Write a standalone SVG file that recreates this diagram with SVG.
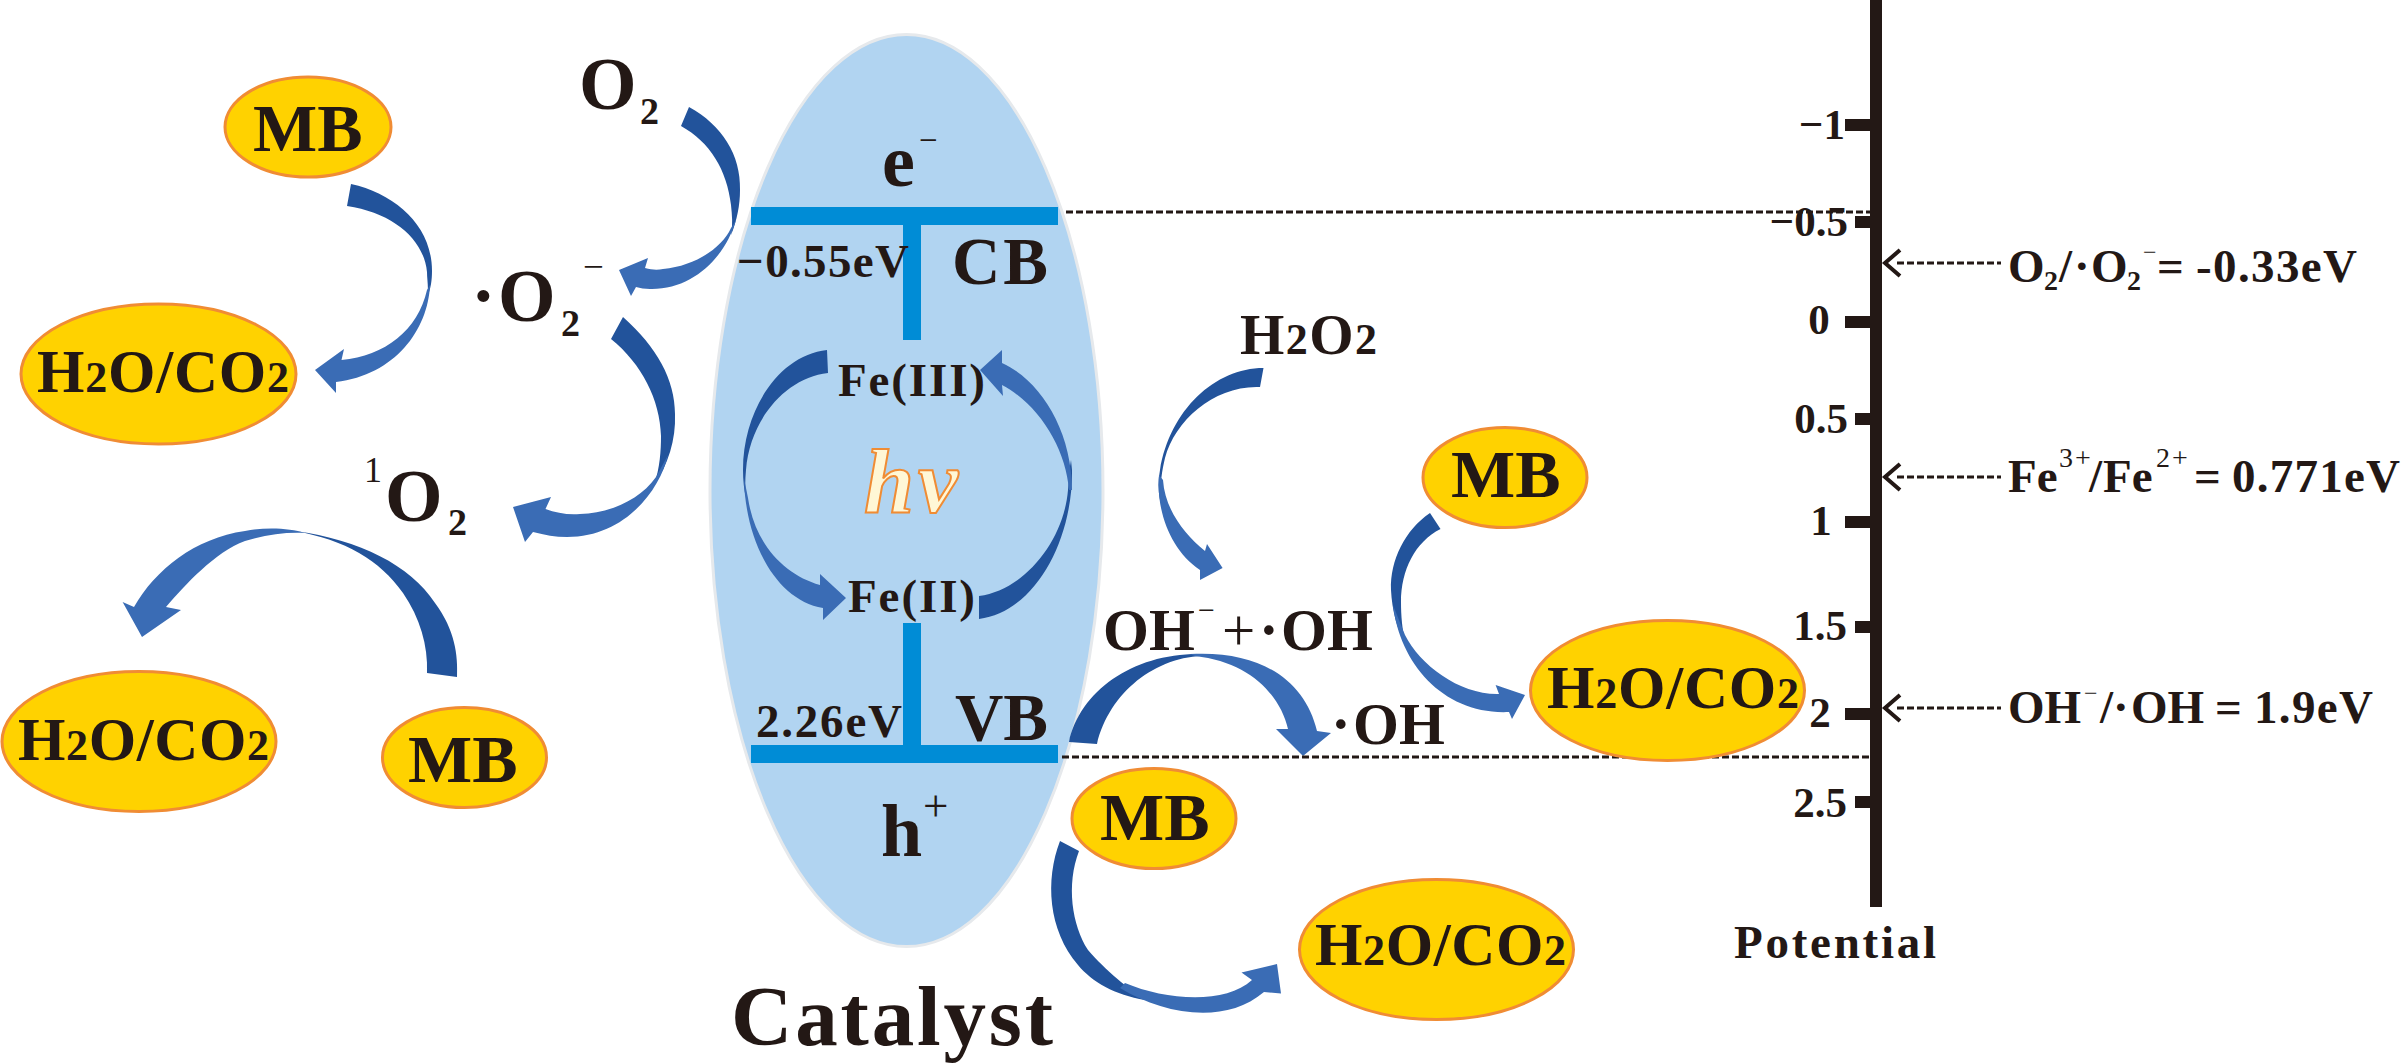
<svg xmlns="http://www.w3.org/2000/svg" width="2402" height="1064" viewBox="0 0 2402 1064">
<style>
text{font-family:"Liberation Serif","Times New Roman",serif;font-weight:700;fill:#231815}
.thin{font-weight:400}
.pill{fill:#ffd200;stroke:#f08c34;stroke-width:3}
.mb{font-size:68px}
.prod{font-size:61px}
.sm{font-size:44px}
.t{font-size:43px}
.r{font-size:47px}
.rs{font-size:28px}
.rm{font-size:24px;font-weight:400}
.big{font-size:74px}
.d{fill:#22539b}
.l{fill:#3a6cb5}
.bar{fill:#008cd6}
.dash{fill:none;stroke:#231815;stroke-width:3;stroke-dasharray:7 3}
.chev{fill:none;stroke:#231815;stroke-width:4}
.axis{fill:#231815}
</style>
<rect width="2402" height="1064" fill="#fff"/>
<g id="catalyst">
<ellipse cx="906.5" cy="490.5" rx="196.5" ry="456" fill="#b1d4f1" stroke="#e6e9ec" stroke-width="3"/>
<text x="731" y="1045" font-size="85" textLength="322">Catalyst</text>
</g>
<g id="bands">
<rect class="bar" x="751" y="207" width="307" height="18"/>
<rect class="bar" x="903" y="225" width="18" height="115"/>
<rect class="bar" x="751" y="745" width="307" height="18"/>
<rect class="bar" x="903" y="623" width="18" height="122"/>
<text x="882" y="186" class="big">e<tspan class="thin" x="919" y="151" font-size="33">−</tspan></text>
<text x="737" y="277" class="r" textLength="172">−0.55eV</text>
<text x="952" y="284" font-size="67" textLength="96">CB</text>
<text x="756" y="737" class="r" textLength="146">2.26eV</text>
<text x="955" y="740" font-size="67" textLength="93">VB</text>
<text x="881" y="856" class="big">h<tspan class="thin" x="923" y="821" font-size="45">+</tspan></text>
<text x="838" y="396" class="r" textLength="147">Fe(III)</text>
<text x="848" y="612" class="r" textLength="127">Fe(II)</text>
<text x="864" y="512" font-size="90" font-style="italic" textLength="94" style="fill:#fff7d6;stroke:#f08c34;stroke-width:2">hv</text>
</g>
<g id="connectors">
<path class="d" d="M351,184C396,194 432,226 432,271C432,280 431,288 427,298C429,288 427,280 427,272C424,240 394,213 347,206Z"/>
<path class="l" d="M430,285C428,330 395,375 336,382L336,393L315,370L344,349L341.5,360C385,356 418,330 427,290Z"/>
<path class="d" d="M689,107C722,125 741,155 740,190C740,205 737,220 731,235C733,225 732,215 731,205C727,170 710,142 681,126Z"/>
<path class="l" d="M736,220C725,258 692,290 650,289C645,289 640,288 636,287L631,296L619,270L648,258L645,268C652,270 658,270 663,269C695,266 722,248 731,228Z"/>
<path class="d" d="M623,317C657,347 675,380 675,414C676,440 668,465 654,485C660,468 661,450 661,436C660,400 642,364 611,339Z"/>
<path class="l" d="M668,455C660,490 625,537 567,537C555,537 545,535 533,532L525,542L513,507L551,497L545.5,509C556,513 568,515 580,514C610,513 640,500 656,477Z"/>
<path class="d" d="M457,677C458,655 455,630 435,603C410,565 360,540 295,531C345,540 380,560 403,593C420,618 428,645 427,673Z"/>
<path class="l" d="M305,533C290,528 265,527 245,531C195,538 155,570 134,607L122.6,602L142,637L181,610L166,607C185,585 215,552 245,541C265,535 285,532 305,533Z"/>
<path class="d" d="M827,350C779,355 743,410 743,470C743,480 744,490 746,498C745,490 745,480 746,470C750,420 785,378 828,373Z"/>
<path class="l" d="M744,478C745,540 775,600 823,608L823,620L846,598L820,574L820,585C785,575 755,545 748,498Z"/>
<path class="d" d="M1072,470C1073,540 1035,612 979,619L979,596C1025,590 1064,540 1068,490C1069,480 1069,470 1071,460Z"/>
<path class="l" d="M1002,363C1040,380 1072,430 1072,490L1069,490C1066,450 1040,405 1002,385L1003,396L980,370L1002,350Z"/>
<path class="d" d="M1263.5,368C1215,368 1170,410 1160,470C1158,480 1158,490 1160,500C1160,485 1162,470 1165,458C1175,420 1215,385 1260,387Z"/>
<path class="l" d="M1159,475C1156,510 1170,550 1200,570L1200,580L1222.6,568L1207,544L1205,551C1185,535 1165,510 1163,480Z"/>
<path class="d" d="M1069,742C1080,690 1135,652 1203,654L1215,656C1160,652 1110,690 1097,744Z"/>
<path class="l" d="M1190,654C1260,650 1305,680 1317,731L1331,733L1303,756L1276,729L1288,729C1280,695 1250,662 1195,656Z"/>
<path class="d" d="M1430,513C1405,530 1390,560 1391,590C1392,610 1397,630 1406,645C1402,630 1401,615 1401,602C1401,570 1415,542 1440.5,529Z"/>
<path class="l" d="M1393,605C1400,665 1445,715 1509,712L1512,719L1525,695L1495.6,685L1499,694C1460,695 1420,665 1405,635Z"/>
<path class="d" d="M1060,841C1045,880 1048,930 1078,965C1092,982 1115,995 1145,1000C1130,990 1105,970 1088,950C1072,925 1066,885 1079,851Z"/>
<path class="l" d="M1120,988C1165,1015 1225,1025 1264,992L1281,993.5L1277,964L1241.5,972.5L1252,980C1225,1005 1165,1000 1125,983Z"/>
<path class="dash" d="M1066,212H1870M1062,757H1870M1897,263H2001M1897,477H2001M1897,708H2001"/>
<path class="chev" d="M1900,250L1885,263L1900,276M1900,464L1885,477L1900,490M1900,695L1885,708L1900,721"/>
</g>
<g id="mb-1"><ellipse class="pill" cx="308" cy="127" rx="83" ry="50"/><text class="mb" x="253" y="151">MB</text></g>
<g id="prod-1"><ellipse class="pill" cx="158.5" cy="374" rx="137.5" ry="70"/><text class="prod" x="37" y="392" textLength="252">H<tspan class="sm">2</tspan>O/CO<tspan class="sm">2</tspan></text></g>
<g id="mb-2"><ellipse class="pill" cx="464.5" cy="757.5" rx="82" ry="50"/><text class="mb" x="408" y="782">MB</text></g>
<g id="prod-2"><ellipse class="pill" cx="139" cy="741.5" rx="137" ry="70"/><text class="prod" x="18" y="760" textLength="251">H<tspan class="sm">2</tspan>O/CO<tspan class="sm">2</tspan></text></g>
<g id="mb-3"><ellipse class="pill" cx="1505" cy="477.5" rx="82" ry="50"/><text class="mb" x="1451" y="497">MB</text></g>
<g id="prod-3"><ellipse class="pill" cx="1667.5" cy="690.5" rx="137" ry="70"/><text class="prod" x="1547" y="708" textLength="252">H<tspan class="sm">2</tspan>O/CO<tspan class="sm">2</tspan></text></g>
<g id="mb-4"><ellipse class="pill" cx="1154" cy="818.5" rx="82" ry="50"/><text class="mb" x="1100" y="840">MB</text></g>
<g id="prod-4"><ellipse class="pill" cx="1436.5" cy="949.5" rx="137" ry="70"/><text class="prod" x="1315" y="965" textLength="251">H<tspan class="sm">2</tspan>O/CO<tspan class="sm">2</tspan></text></g>
<g id="o2"><text class="big" x="579" y="109">O<tspan font-size="38" x="640" y="124">2</tspan></text></g>
<g id="superoxide"><text class="big" x="471" y="321">·<tspan x="498">O</tspan><tspan font-size="38" x="561" y="336">2</tspan><tspan class="thin" font-size="37" x="583" y="279">−</tspan></text></g>
<g id="singlet"><text class="thin" x="364" y="482" font-size="36">1</text><text class="big" x="385" y="521">O<tspan font-size="38" x="448" y="535">2</tspan></text></g>
<g id="h2o2"><text x="1240" y="354" font-size="57" textLength="137">H<tspan class="sm">2</tspan>O<tspan class="sm">2</tspan></text></g>
<g id="oh-pair"><text x="1103" y="650" font-size="59">OH<tspan class="thin" font-size="30" x="1198" y="620">−</tspan><tspan class="thin" x="1222" y="650">+</tspan><tspan x="1259">·</tspan><tspan x="1281">OH</tspan></text></g>
<g id="oh"><text x="1331" y="744" font-size="59">·<tspan x="1353">OH</tspan></text></g>
<g id="axis">
<rect class="axis" x="1870" y="0" width="12" height="907"/>
<rect class="axis" x="1845" y="119" width="25" height="12"/>
<rect class="axis" x="1855" y="216" width="15" height="12"/>
<rect class="axis" x="1845" y="316" width="25" height="12"/>
<rect class="axis" x="1855" y="413" width="15" height="12"/>
<rect class="axis" x="1845" y="516" width="25" height="12"/>
<rect class="axis" x="1855" y="621" width="15" height="12"/>
<rect class="axis" x="1845" y="708" width="25" height="12"/>
<rect class="axis" x="1855" y="796" width="15" height="12"/>
<text class="t" x="1845" y="139" text-anchor="end">−1</text>
<text class="t" x="1848" y="236" text-anchor="end">−0.5</text>
<text class="t" x="1819" y="334" text-anchor="middle">0</text>
<text class="t" x="1848" y="433" text-anchor="end">0.5</text>
<text class="t" x="1821" y="535" text-anchor="middle">1</text>
<text class="t" x="1847" y="640" text-anchor="end">1.5</text>
<text class="t" x="1820" y="727" text-anchor="middle">2</text>
<text class="t" x="1847" y="817" text-anchor="end">2.5</text>
<text x="1734" y="958" font-size="47" textLength="202">Potential</text>
</g>
<g id="ref-o2"><text class="r" x="2008" y="282">O<tspan class="rs" x="2044" y="290">2</tspan><tspan x="2059" y="282">/</tspan><tspan x="2074">·</tspan><tspan x="2091">O</tspan><tspan class="rs" x="2127" y="290">2</tspan><tspan class="rm" x="2143" y="260">−</tspan><tspan x="2157" y="282">=</tspan></text><text class="r" x="2196" y="282" textLength="161">-0.33eV</text></g>
<g id="ref-fe"><text class="r" x="2008" y="492">Fe<tspan class="rs thin" x="2059" y="467" letter-spacing="2">3+</tspan><tspan x="2089" y="492">/</tspan><tspan x="2103">Fe</tspan><tspan class="rs thin" x="2156" y="467" letter-spacing="2">2+</tspan><tspan x="2194" y="492">=</tspan></text><text class="r" x="2232" y="492" textLength="168">0.771eV</text></g>
<g id="ref-oh"><text class="r" x="2008" y="723">OH<tspan class="rm" x="2084" y="701">−</tspan><tspan x="2100" y="723">/</tspan><tspan x="2113">·</tspan><tspan x="2131">OH</tspan><tspan x="2215">=</tspan></text><text class="r" x="2254" y="723" textLength="119">1.9eV</text></g>
</svg>
